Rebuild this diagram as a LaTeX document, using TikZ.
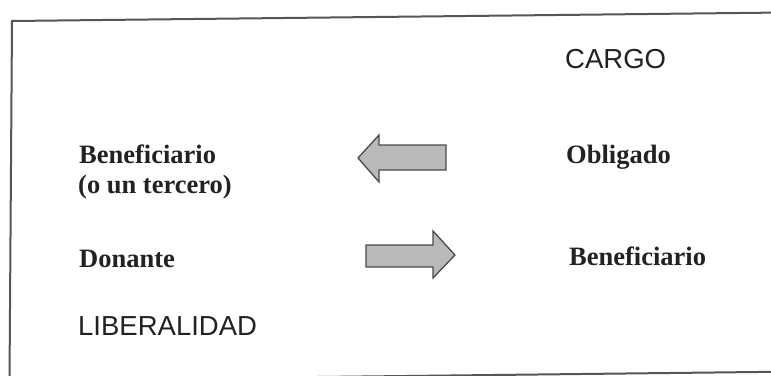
\documentclass[tikz,border=0pt]{standalone}
\usepackage{fontspec}
\setmainfont{Liberation Serif}
\newfontfamily\arialfont{Liberation Sans}
\definecolor{inkc}{HTML}{222222}
\definecolor{framec}{HTML}{555555}
\definecolor{arrowfill}{HTML}{B9B9B9}
\definecolor{arrowline}{HTML}{4A4A4A}
\tikzset{
  serlabel/.style={anchor=base west, inner sep=0pt, text=inkc, font=\fontsize{26.5}{30}\selectfont\bfseries},
  sanlabel/.style={anchor=base west, inner sep=0pt, text=inkc, font=\arialfont\fontsize{27.5}{31}\selectfont},
  bigarrow/.style={fill=arrowfill, draw=arrowline, line width=1.3pt, line join=miter},
  frame/.style={draw=framec, line width=2pt}
}
\begin{document}
\begin{tikzpicture}[x=1pt,y=-1pt]
\useasboundingbox (0,0) rectangle (771,375);
\fill[white] (0,0) rectangle (771,375);
% frame (slightly rotated scan)
\draw[frame] (9.5,381) -- (12,21) -- (775,12.6);
\draw[frame] (9.5,380.5) -- (775,371.8);
% labels
\node[sanlabel] (cargo) at (565,68) {CARGO};
\node[serlabel] (benef1) at (79,163) {Beneficiario};
\node[serlabel] (tercero) at (78,193) {(o un tercero)};
\node[serlabel] (oblig) at (566,163) {Obligado};
\node[serlabel] (donante) at (79,267) {Donante};
\node[serlabel] (benef2) at (569,265) {Beneficiario};
\node[sanlabel] (liber) at (78,335) {LIBERALIDAD};
% arrows
\draw[bigarrow] (358,158) -- (379,135) -- (379,145) -- (446,145) -- (446,170) -- (379,170) -- (379,182) -- cycle;
\draw[bigarrow] (366,245) -- (433,245) -- (433,231) -- (455,255) -- (433,278) -- (433,267) -- (366,267) -- cycle;
\end{tikzpicture}
\end{document}
